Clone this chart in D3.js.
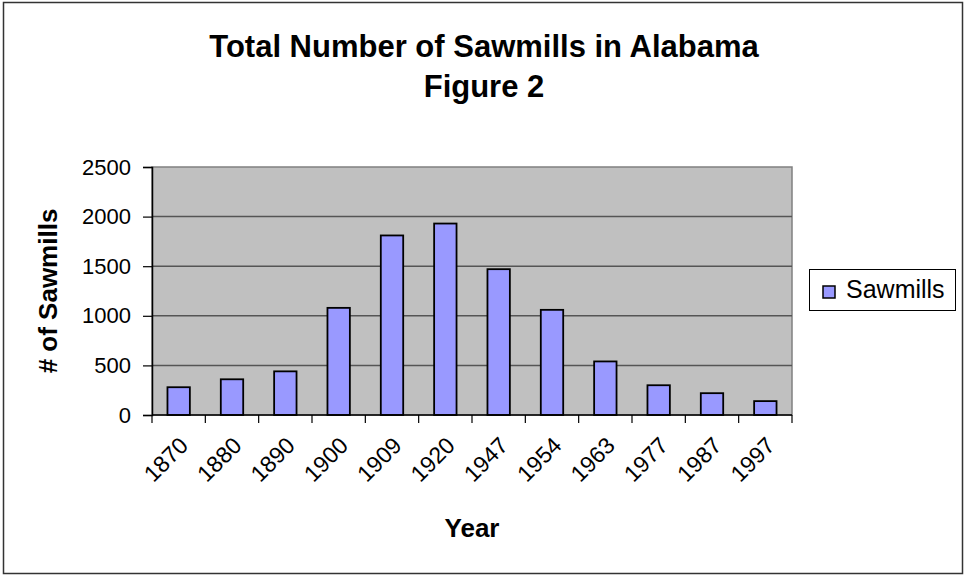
<!DOCTYPE html>
<html>
<head>
<meta charset="utf-8">
<script src="https://cdn.jsdelivr.net/npm/d3@7"></script>
<style>
  html, body { margin: 0; padding: 0; background: #fff; }
  svg { display: block; font-family: "Liberation Sans", Arial, sans-serif; }
</style>
</head>
<body>
<svg id="chart" width="964" height="576"></svg>
<script>
// Sawmill counts in Alabama by census year
const years = ["1870", "1880", "1890", "1900", "1909", "1920", "1947", "1954", "1963", "1977", "1987", "1997"];
const sawmills = [280, 360, 440, 1080, 1810, 1930, 1470, 1060, 540, 300, 220, 140];
const yTicks = [0, 500, 1000, 1500, 2000, 2500];
const seriesName = "Sawmills";
const titleLines = ["Total Number of Sawmills in Alabama", "Figure 2"];

const svg = d3.select("#chart");
const plot = { left: 152, right: 792, top: 167, bottom: 415 };
const FONT = "Liberation Sans, Arial, sans-serif";

// Outer chart frame
svg.append("rect")
  .attr("x", 3.5).attr("y", 2.5)
  .attr("width", 959).attr("height", 571)
  .attr("fill", "#fff").attr("stroke", "#333").attr("stroke-width", 1.5);

const x = d3.scaleBand()
  .domain(years)
  .range([plot.left, plot.right])
  .paddingInner(0.58)
  .paddingOuter(0.29);

const y = d3.scaleLinear()
  .domain([0, 2500])
  .range([plot.bottom, plot.top]);

// Plot background
svg.append("rect")
  .attr("x", plot.left).attr("y", plot.top)
  .attr("width", plot.right - plot.left).attr("height", plot.bottom - plot.top)
  .attr("fill", "#c0c0c0").attr("stroke", "#808080").attr("stroke-width", 1.5);

// Horizontal gridlines
svg.append("g")
  .selectAll("line")
  .data(yTicks.filter(d => d > 0 && d < 2500))
  .join("line")
  .attr("x1", plot.left).attr("x2", plot.right)
  .attr("y1", d => y(d)).attr("y2", d => y(d))
  .attr("stroke", "#555").attr("stroke-width", 1.5);

// Bars
svg.append("g")
  .selectAll("rect")
  .data(years.map((yr, i) => ({ yr, v: sawmills[i] })))
  .join("rect")
  .attr("x", d => x(d.yr))
  .attr("y", d => y(d.v))
  .attr("width", x.bandwidth())
  .attr("height", d => y(0) - y(d.v))
  .attr("fill", "#9999ff")
  .attr("stroke", "#000")
  .attr("stroke-width", 1.8);

// Y axis
const yAxis = svg.append("g")
  .attr("transform", `translate(${plot.left},0)`)
  .call(d3.axisLeft(y).tickValues(yTicks).tickFormat(d3.format("d")).tickSize(9).tickPadding(12));
yAxis.select(".domain").attr("stroke", "#000").attr("stroke-width", 1.5);
yAxis.selectAll(".tick line").attr("stroke", "#000").attr("stroke-width", 1.2);
yAxis.selectAll(".tick text")
  .attr("font-size", 22).attr("fill", "#000")
  .attr("font-family", FONT);

// X axis: ticks sit on category boundaries
const step = x.step();
svg.append("line")
  .attr("x1", plot.left).attr("x2", plot.right)
  .attr("y1", plot.bottom).attr("y2", plot.bottom)
  .attr("stroke", "#000").attr("stroke-width", 1.5);
svg.append("g")
  .selectAll("line")
  .data(d3.range(years.length + 1))
  .join("line")
  .attr("x1", i => plot.left + i * step).attr("x2", i => plot.left + i * step)
  .attr("y1", plot.bottom).attr("y2", plot.bottom + 8)
  .attr("stroke", "#000").attr("stroke-width", 1.2);

svg.append("g")
  .selectAll("text")
  .data(years)
  .join("text")
  .attr("transform", d => `translate(${x(d) + x.bandwidth() / 2 + 11},${plot.bottom + 32}) rotate(-45)`)
  .attr("text-anchor", "end")
  .attr("font-size", 23)
  .attr("fill", "#000")
  .text(d => d);

// Axis titles
svg.append("text")
  .attr("x", (plot.left + plot.right) / 2).attr("y", 537)
  .attr("text-anchor", "middle")
  .attr("font-size", 26).attr("font-weight", "bold")
  .text("Year");

svg.append("text")
  .attr("transform", `translate(57,${(plot.top + plot.bottom) / 2}) rotate(-90)`)
  .attr("text-anchor", "middle")
  .attr("font-size", 26).attr("font-weight", "bold")
  .text("# of Sawmills");

// Title
svg.append("g")
  .selectAll("text")
  .data(titleLines)
  .join("text")
  .attr("x", 484)
  .attr("y", (d, i) => 57 + i * 40)
  .attr("text-anchor", "middle")
  .attr("font-size", 31).attr("font-weight", "bold")
  .text(d => d);

// Legend
const legend = svg.append("g");
legend.append("rect")
  .attr("x", 809.5).attr("y", 269.5)
  .attr("width", 146).attr("height", 41)
  .attr("fill", "#fff").attr("stroke", "#000").attr("stroke-width", 1);
legend.append("rect")
  .attr("x", 823).attr("y", 286)
  .attr("width", 12).attr("height", 12)
  .attr("fill", "#9999ff").attr("stroke", "#000").attr("stroke-width", 1.5);
legend.append("text")
  .attr("x", 846).attr("y", 298)
  .attr("font-size", 25).attr("fill", "#000")
  .text(seriesName);
</script>
</body>
</html>
